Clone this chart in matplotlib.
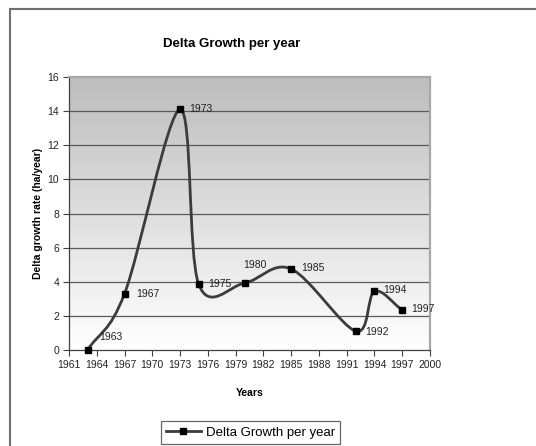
import numpy as np
import matplotlib
matplotlib.use("Agg")
import matplotlib.pyplot as plt
from matplotlib.path import Path
from matplotlib.patches import PathPatch, Rectangle
from matplotlib.lines import Line2D
from matplotlib.colors import LinearSegmentedColormap

plt.rcParams['font.family'] = ['Liberation Sans', 'DejaVu Sans']

years = [1963, 1967, 1973, 1975, 1980, 1985, 1992, 1994, 1997]
growth = [0.0, 3.3, 14.1, 3.87, 3.93, 4.75, 1.1, 3.43, 2.34]
point_labels = [str(y) for y in years]
# label offsets in pixels (dx, dy) from each point
label_offsets = [(12, 13), (12, 0), (9, 0), (10, 0), (-2, 18), (10, 1), (9, -1), (9, 1), (9, 1)]

fig = plt.figure(figsize=(5.36, 4.46), dpi=100)
fig.patch.set_facecolor('white')

# chart area frame
fig.patches.append(Rectangle((10 / 536, -0.05), 1.2, 1 - 9 / 446 + 0.05,
                             transform=fig.transFigure, fill=False,
                             edgecolor='#707070', linewidth=1.5))

ax = fig.add_axes([69 / 536, 1 - 350 / 446, (430 - 69) / 536, (350 - 77) / 446])

# gray-to-white plot area background
grad = np.linspace(1, 0, 256).reshape(-1, 1)
cmap = LinearSegmentedColormap.from_list('bg', ['#ffffff', '#bdbdbd'])
ax.imshow(grad, cmap=cmap, extent=[1961, 2000, 0, 16], aspect='auto', zorder=0)

ax.set_xlim(1961, 2000)
ax.set_ylim(0, 16)
ax.set_xticks(np.arange(1961, 2001, 3))
ax.set_yticks(np.arange(0, 17, 2))
ax.tick_params(labelsize=7.5, length=4, width=0.8, color='#404040', pad=3,
               labelcolor='#222222')
for y in range(2, 16, 2):
    ax.axhline(y, color='#5a5a5a', linewidth=0.9, zorder=1)

for side in ['top', 'right']:
    ax.spines[side].set_color('#a8a8a8')
    ax.spines[side].set_linewidth(1.6)
for side in ['left', 'bottom']:
    ax.spines[side].set_color('#404040')
    ax.spines[side].set_linewidth(0.9)

# smoothed line through the points (cubic Bezier segments)
pts = np.column_stack([years, growth]).astype(float)
n = len(pts)
tang = np.zeros_like(pts)
for i in range(n):
    if i == 0:
        tang[i] = (pts[1] - pts[0]) / 3
    elif i == n - 1:
        tang[i] = (pts[-1] - pts[-2]) / 3
    else:
        tang[i] = (pts[i + 1] - pts[i - 1]) / 6
verts = [pts[0]]
codes = [Path.MOVETO]
for i in range(n - 1):
    verts += [pts[i] + tang[i], pts[i + 1] - tang[i + 1], pts[i + 1]]
    codes += [Path.CURVE4] * 3
curve = PathPatch(Path(verts, codes), facecolor='none', edgecolor='#3c3c3c',
                  linewidth=2.0, zorder=3, capstyle='round', joinstyle='round')
ax.add_patch(curve)
ax.plot(years, growth, linestyle='none', marker='s', markersize=4,
        color='black', zorder=4, clip_on=False)

for x, y, lab, off in zip(years, growth, point_labels, label_offsets):
    ax.annotate(lab, (x, y), xytext=off, textcoords='offset pixels',
                ha='left', va='center', fontsize=7.5, color='#222222', zorder=5)

fig.text(232 / 536, 1 - 44 / 446, 'Delta Growth per year', ha='center', va='center',
         fontsize=9.5, fontweight='bold')
ax.set_xlabel('Years', fontsize=7.5, fontweight='bold', labelpad=13)
ax.set_ylabel('Delta growth rate (ha/year)', fontsize=7.5, fontweight='bold', labelpad=3)

handle = Line2D([], [], color='#3c3c3c', linewidth=2.0, marker='s',
                markersize=4, markerfacecolor='black', markeredgecolor='black')
leg = fig.legend([handle], ['Delta Growth per year'], loc='upper left',
                 bbox_to_anchor=(161 / 536, 1 - 421 / 446), bbox_transform=fig.transFigure,
                 fontsize=9.5, frameon=True, fancybox=False, handlelength=2.6,
                 borderpad=0.4, handletextpad=0.4, borderaxespad=0)
leg.get_frame().set_edgecolor('#404040')
leg.get_frame().set_linewidth(0.9)

fig.savefig('out.png', dpi=100)
